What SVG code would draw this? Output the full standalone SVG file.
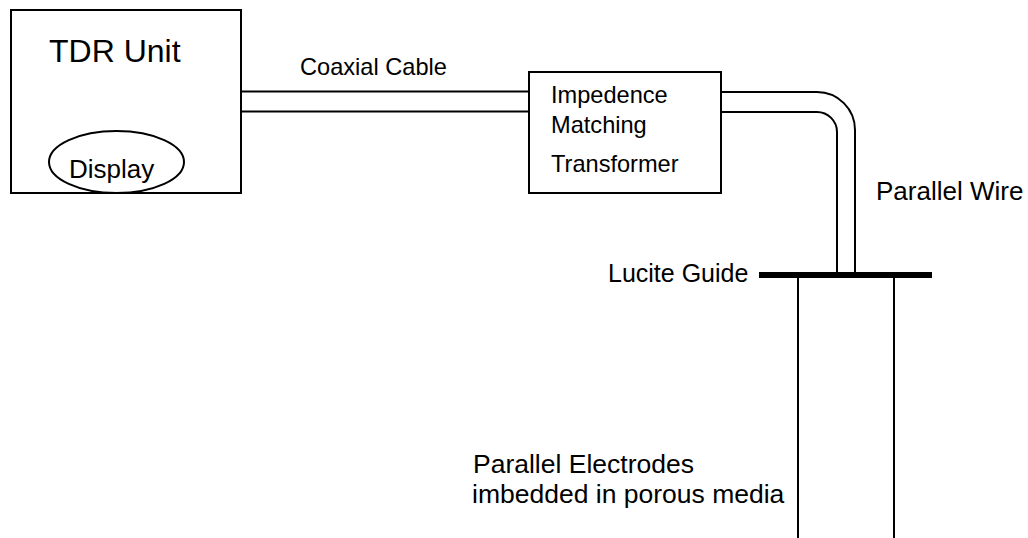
<svg xmlns="http://www.w3.org/2000/svg" width="1028" height="538" viewBox="0 0 1028 538">
<style>
.s{fill:none;stroke:#000;stroke-width:2}
.t{font-family:"Liberation Sans",Arial,sans-serif;fill:#000}
</style>
<rect width="1028" height="538" fill="#fff"/>
<g id="tdr-unit">
<rect class="s" x="11" y="10" width="230" height="183"/>
<text class="t" x="49" y="62" font-size="32">TDR Unit</text>
<ellipse class="s" cx="116.5" cy="162" rx="67.5" ry="31"/>
<text class="t" x="69" y="178" font-size="26">Display</text>
</g>
<g id="transformer">
<rect class="s" x="529" y="72" width="192" height="121"/>
<text class="t" x="551" y="103" font-size="23.6">Impedence</text>
<text class="t" x="551" y="133" font-size="23.6">Matching</text>
<text class="t" x="551" y="172" font-size="23.6">Transformer</text>
</g>
<g id="lucite-guide">
<rect x="759" y="272" width="173" height="6" fill="#000"/>
<text class="t" x="608" y="282" font-size="25">Lucite Guide</text>
</g>
<g id="electrodes">
<line class="s" x1="798" y1="277" x2="798" y2="538"/>
<line class="s" x1="894" y1="277" x2="894" y2="538"/>
<text class="t" x="473" y="473" font-size="26.5">Parallel Electrodes</text>
<text class="t" x="472" y="503" font-size="26.5">imbedded in porous media</text>
</g>
<g id="connectors">
<line class="s" x1="241" y1="91.5" x2="529" y2="91.5"/>
<line class="s" x1="241" y1="111.5" x2="529" y2="111.5"/>
<path class="s" d="M721 92 H817 A38 38 0 0 1 855 130 V273"/>
<path class="s" d="M721 112 H817 A20 20 0 0 1 837 132 V273"/>
</g>
<text class="t" x="300" y="75" font-size="23.6">Coaxial Cable</text>
<text class="t" x="876" y="200" font-size="26">Parallel Wire</text>
</svg>
